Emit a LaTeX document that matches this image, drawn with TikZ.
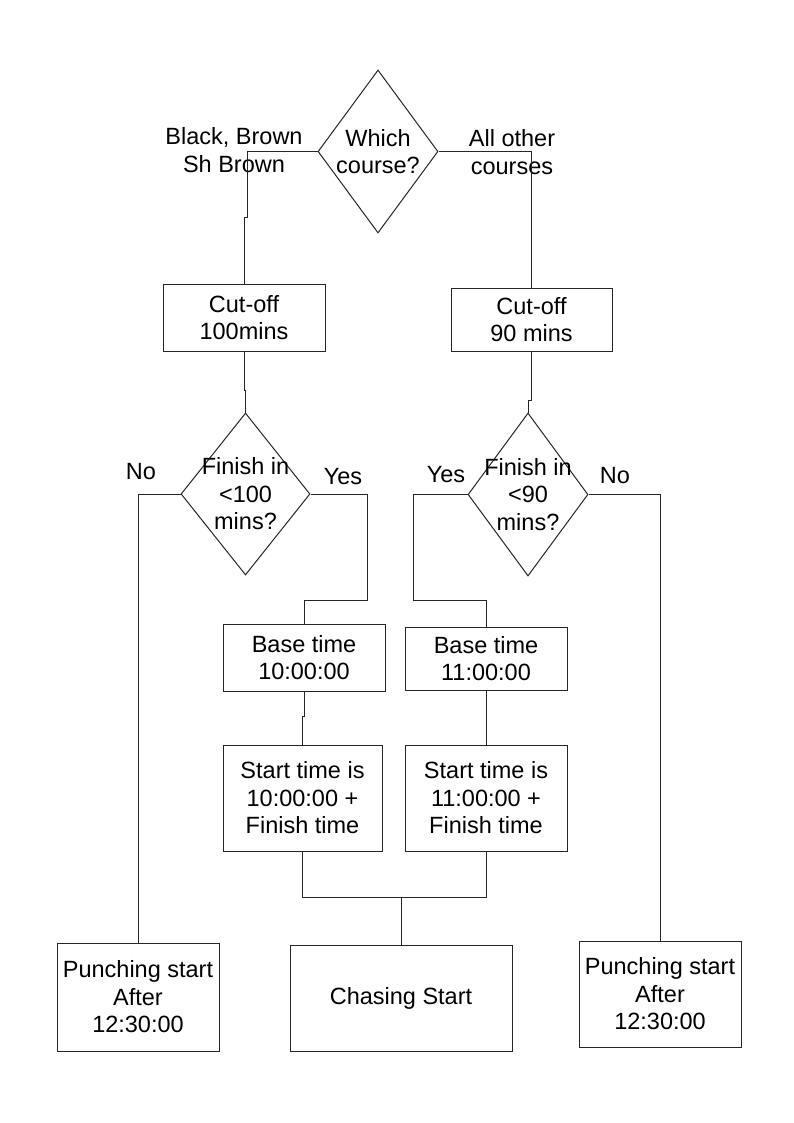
\documentclass[tikz,border=0pt]{standalone}
\usepackage{fontspec}
\setmainfont{Liberation Sans}
\usetikzlibrary{shapes.geometric}
\begin{document}
\begin{tikzpicture}[x=1pt,y=-1pt,
  every node/.style={font=\fontsize{23.5}{27.5}\selectfont, align=center, text=black},
  box/.style={draw=black!85, line width=1pt, rectangle, inner sep=0pt},
  dia/.style={draw=black!85, line width=1pt, diamond, inner sep=0pt},
  conn/.style={draw=black!85, line width=1pt},
  lbl/.style={inner sep=0pt}]
\useasboundingbox[fill=white] (0,0) rectangle (794,1123);

% decisions
\node[dia, minimum width=120pt, minimum height=163pt] (w) at (378,151.5) {};
\node[lbl] (wt) at (w.center) {Which\\course?};
\node[dia, minimum width=129pt, minimum height=162pt] (f1) at (245.5,494) {};
\node[lbl] (f1t) at (f1.center) {Finish in\\<100\\mins?};
\node[dia, minimum width=120pt, minimum height=163pt] (f2) at (528,494.5) {};
\node[lbl] (f2t) at (f2.center) {Finish in\\<90\\mins?};

% boxes
\node[box, minimum width=162pt, minimum height=67pt] (c1) at (244,317.5) {Cut-off\\100mins};
\node[box, minimum width=161pt, minimum height=63pt] (c2) at (531.5,319.5) {Cut-off\\90 mins};
\node[box, minimum width=162pt, minimum height=67pt] (b1) at (304,657.5) {Base time\\10:00:00};
\node[box, minimum width=162pt, minimum height=63pt] (b2) at (486,658.5) {Base time\\11:00:00};
\node[box, minimum width=159pt, minimum height=106pt] (s1) at (302.5,798) {Start time is\\10:00:00 +\\Finish time};
\node[box, minimum width=162pt, minimum height=106pt] (s2) at (486,798) {Start time is\\11:00:00 +\\Finish time};
\node[box, minimum width=162pt, minimum height=108pt] (p1) at (138,997) {Punching start\\After\\12:30:00};
\node[box, minimum width=222pt, minimum height=106pt] (cs) at (401,998) {Chasing Start};
\node[box, minimum width=162pt, minimum height=106pt] (p2) at (660,994) {Punching start\\After\\12:30:00};

% labels
\node[lbl] (l1) at (234,150) {Black, Brown\\Sh Brown};
\node[lbl] (l2) at (512,152) {All other\\courses};
\node[lbl] (no1) at (141,472) {No};
\node[lbl] (yes1) at (343,477) {Yes};
\node[lbl] (yes2) at (446,475) {Yes};
\node[lbl] (no2) at (615,476) {No};

% helper coordinates
\coordinate (k0) at (247,218);
\coordinate (k1) at (244,390);
\coordinate (k2) at (531.5,400);
\coordinate (k3) at (304,716);
\coordinate (y1) at (367,600);
\coordinate (y2) at (413,600);
\coordinate (j) at (401,897);

% connectors
\draw[conn] (w.west) -| (k0) -| (c1.north);
\draw[conn] (w.east) -| (c2.north);
\draw[conn] (c1.south) -- (k1) -| (f1.north);
\draw[conn] (c2.south) -- (k2) -| (f2.north);
\draw[conn] (f1.west) -| (p1.north);
\draw[conn] (f2.east) -| (p2.north);
\draw[conn] (f1.east) -| (y1) -| (b1.north);
\draw[conn] (f2.west) -| (y2) -| (b2.north);
\draw[conn] (b1.south) -- (k3) -| (s1.north);
\draw[conn] (b2.south) -- (s2.north);
\draw[conn] (s1.south) |- (j) -| (s2.south);
\draw[conn] (j) -- (cs.north);
\end{tikzpicture}
\end{document}
